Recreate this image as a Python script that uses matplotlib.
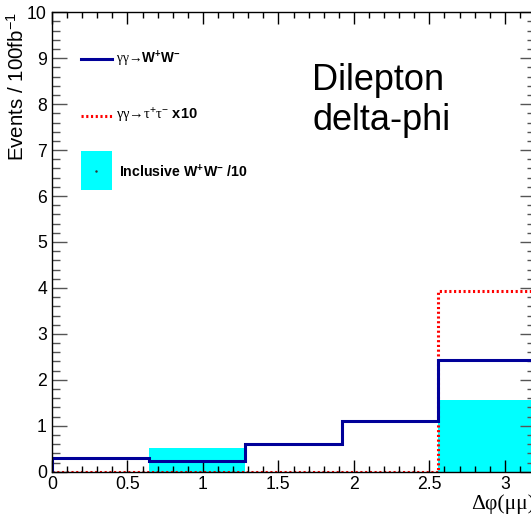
import numpy as np
import matplotlib
matplotlib.use("Agg")
import matplotlib.pyplot as plt
from matplotlib.lines import Line2D
from matplotlib.patches import Rectangle
from matplotlib.ticker import MultipleLocator

plt.rcParams['font.family'] = ['Liberation Sans', 'DejaVu Sans']
plt.rcParams['mathtext.fontset'] = 'custom'
plt.rcParams['mathtext.rm'] = 'Liberation Sans'
plt.rcParams['mathtext.bf'] = 'Liberation Sans:bold'
plt.rcParams['mathtext.it'] = 'Liberation Sans:italic'

# dilepton delta-phi histograms, 5 bins
edges = [0.0, 0.64, 1.28, 1.92, 2.56, 3.2]
gg_ww = [0.29, 0.23, 0.61, 1.11, 2.43]
gg_tautau_x10 = [0.0, 0.0, 0.0, 0.0, 3.93]
incl_ww_div10 = [0.0, 0.51, 0.0, 0.0, 1.56]

blue = '#000099'
red = '#ff0000'
cyan = '#00ffff'

fig = plt.figure(figsize=(5.31, 5.15), dpi=100)
ax = fig.add_axes([52/531, 1 - 471.7/515, (535 - 52)/531, (471.7 - 12.3)/515])

ax.stairs(incl_ww_div10, edges, fill=True, color=cyan, lw=0, zorder=1)
ax.stairs(gg_tautau_x10, edges, color=red, lw=2.2, linestyle=(0, (0.7, 0.85)), zorder=2)
ax.stairs(gg_ww, edges, color=blue, lw=2.2, zorder=3)

ax.set_xlim(0, 3.2)
ax.set_ylim(0, 10)
ax.xaxis.set_major_locator(MultipleLocator(0.5))
ax.xaxis.set_minor_locator(MultipleLocator(0.1))
ax.yaxis.set_major_locator(MultipleLocator(1))
ax.yaxis.set_minor_locator(MultipleLocator(0.2))
ax.set_xticks([0, 0.5, 1, 1.5, 2, 2.5, 3])
ax.set_xticklabels(['0', '0.5', '1', '1.5', '2', '2.5', '3'])
ax.tick_params(axis='both', which='both', direction='in', top=True, right=True,
               labelsize=12.7, width=1)
ax.tick_params(axis='x', which='major', length=8.6, pad=3)
ax.tick_params(axis='x', which='minor', length=4.3)
ax.tick_params(axis='y', which='major', length=10.8, pad=3.6, color='#555555')
ax.tick_params(axis='y', which='minor', length=5.8, color='#555555')
for s in ax.spines.values():
    s.set_linewidth(1.0)
    s.set_zorder(5)
ax.set_axisbelow(False)

ax.set_ylabel(r'Events / 100fb$^{-1}$', fontsize=14.8, loc='top')
ax.yaxis.set_label_coords(-0.051, 1.0)
ax.set_xlabel('Δφ(μμ)', fontsize=15.5, loc='right',
              family=['Liberation Serif', 'DejaVu Serif'])
ax.xaxis.set_label_coords(1.0, -0.05)

# legend drawn by hand in figure pixels
def fx(px):
    return px / 531

def fy(py):
    return 1 - py / 515

fig.add_artist(Line2D([fx(81), fx(112)], [fy(58.5), fy(58.5)], color=blue, lw=2.2))
fig.text(fx(116), fy(58.5), r'γγ→$\mathbf{W^{+}W^{-}}$', fontsize=9.8, va='center',
         family=['Liberation Serif', 'DejaVu Serif'])
fig.add_artist(Line2D([fx(81), fx(112)], [fy(115.5), fy(115.5)], color=red, lw=2.2,
                      linestyle=(0, (0.7, 0.85))))
fig.text(fx(116), fy(115.5), r'γγ→τ$^{+}$τ$^{-}$ $\mathbf{x10}$', fontsize=10.5, va='center',
         family=['Liberation Serif', 'DejaVu Serif'])
fig.add_artist(Rectangle((fx(81), fy(190)), fx(112) - fx(81), fy(151) - fy(190),
                         facecolor=cyan, edgecolor='none'))
fig.add_artist(Line2D([fx(96)], [fy(171)], marker='.', markersize=1.5, color='#333333'))
fig.text(fx(119), fy(172), r'Inclusive W$^{\mathbf{+}}$W$^{\mathbf{-}}$ /10', fontsize=10.2,
         va='center', fontweight='bold')

fig.text(fx(312), fy(130), 'Dilepton\ndelta-phi', fontsize=26, va='baseline',
         ha='left', multialignment='left', linespacing=1.2)

fig.savefig('out.png', dpi=100)
